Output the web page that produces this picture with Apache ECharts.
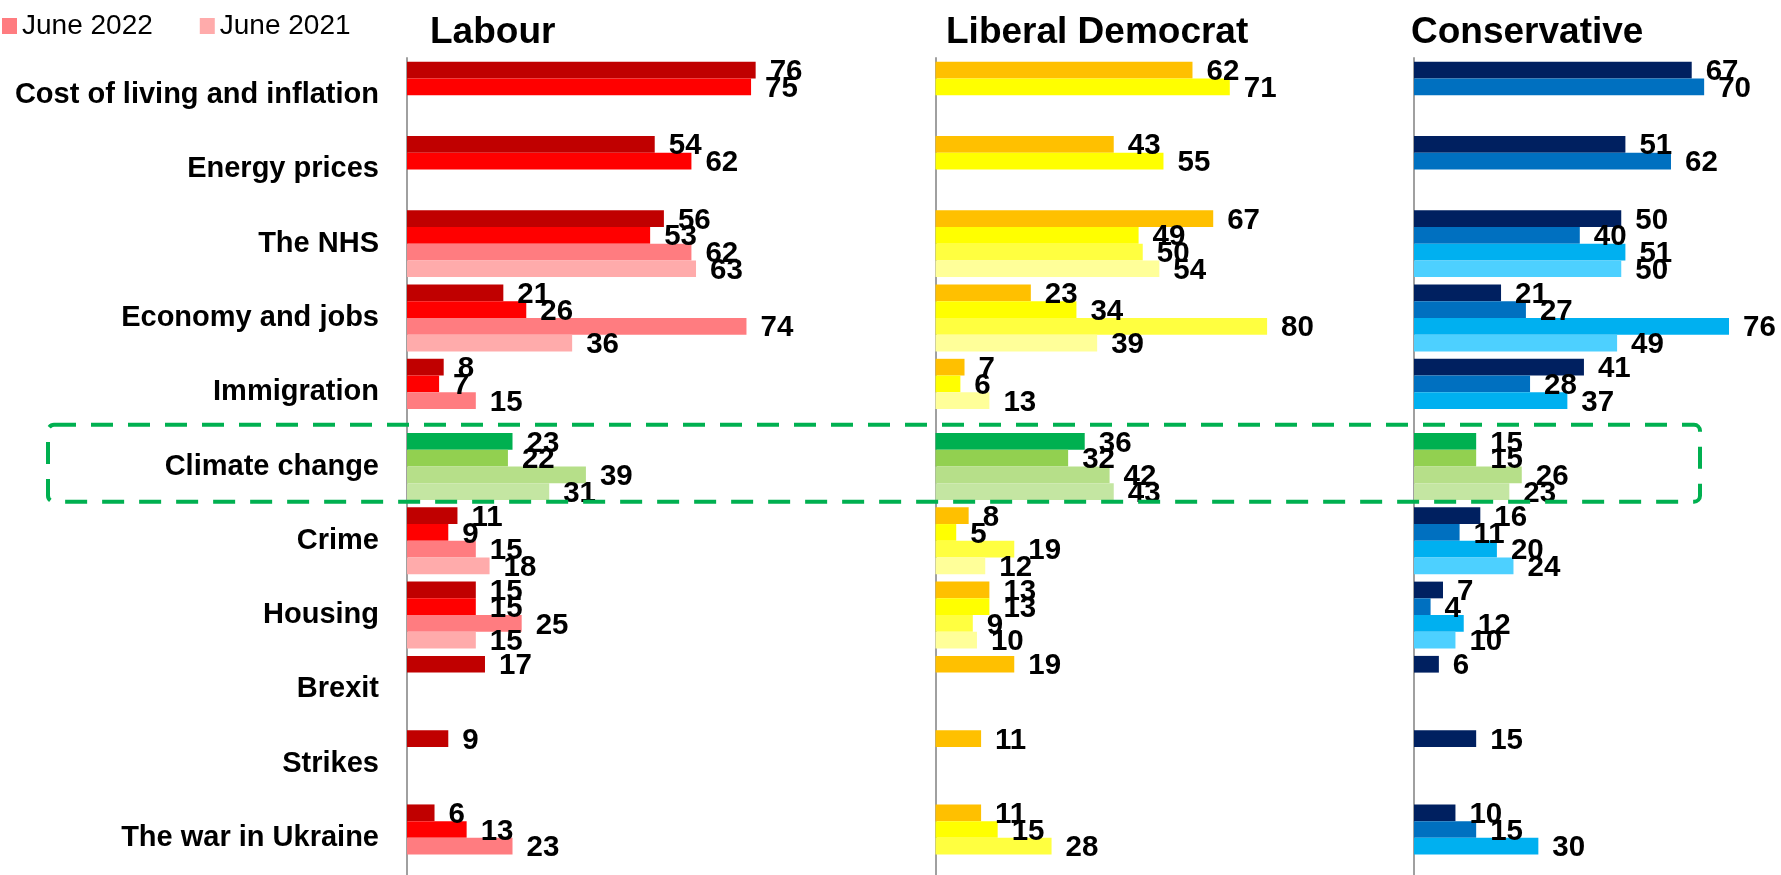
<!DOCTYPE html>
<html>
<head>
<meta charset="utf-8">
<script src="https://cdn.jsdelivr.net/npm/echarts@6/dist/echarts.min.js"></script>
<style>
html,body{margin:0;padding:0;background:#fff;}
#chart{width:1781px;height:875px;}
</style>
</head>
<body>
<div id="chart"></div>
<script>
const categories = ['Cost of living and inflation','Energy prices','The NHS','Economy and jobs','Immigration','Climate change','Crime','Housing','Brexit','Strikes','The war in Ukraine'];
const partyTitles = ['Labour','Liberal Democrat','Conservative'];
const legendLabels = ['June 2022','June 2021'];

const labour1 = [76,54,56,21,8,23,11,15,17,9,6];
const labour2 = [75,62,53,26,7,22,9,15,null,null,13];
const labour3 = [null,null,62,74,15,39,15,25,null,null,23];
const labour4 = [null,null,63,36,null,31,18,15,null,null,null];

const libdem1 = [62,43,67,23,7,36,8,13,19,11,11];
const libdem2 = [71,55,49,34,6,32,5,13,null,null,15];
const libdem3 = [null,null,50,80,13,42,19,9,null,null,28];
const libdem4 = [null,null,54,39,null,43,12,10,null,null,null];

const con1 = [67,51,50,21,41,15,16,7,6,15,10];
const con2 = [70,62,40,27,28,15,11,4,null,null,15];
const con3 = [null,null,51,76,37,26,20,12,null,null,30];
const con4 = [null,null,50,49,null,23,24,10,null,null,null];

const partyData = [
  [labour1, labour2, labour3, labour4],
  [libdem1, libdem2, libdem3, libdem4],
  [con1, con2, con3, con4]
];
const partyColors = [
  ['#C00000','#FF0000','#FF7C80','#FFABAB'],
  ['#FFC000','#FFFF00','#FFFF40','#FFFF99'],
  ['#002060','#0070C0','#00B0F0','#4DD0FF']
];
const climateColors = ['#00B050','#92D050','#B6DF89','#C4E6A2'];
// single point recoloured in the original (Lib Dem, immigration, third bar)
const pointColorOverrides = [{party:1, series:2, cat:'Immigration', color:'#FFFF99'}];

const FONT = '"Liberation Sans", Arial, sans-serif';
const grids = [
  {left: 407, top: 58, width: 367, height: 819.5},
  {left: 935.5, top: 58, width: 331.6, height: 819.5},
  {left: 1414, top: 58, width: 331.6, height: 819.5}
];
const titleLeft = [430, 946, 1411];

const climateIdx = categories.indexOf('Climate change');
const series = [];
partyData.forEach((arrs, p) => {
  arrs.forEach((arr, s) => {
    let name = partyTitles[p] + ' ' + (s + 1);
    if (p === 0 && s >= 2) name = legendLabels[s - 2];
    series.push({
      type: 'bar',
      name: name,
      xAxisIndex: p,
      yAxisIndex: p,
      barGap: '0%',
      barCategoryGap: '10%',
      itemStyle: {color: partyColors[p][s]},
      label: {
        show: true, position: 'right', distance: 14, offset: [0, 2],
        fontSize: 29.5, fontWeight: 'bold', color: '#000', fontFamily: FONT
      },
      data: arr.map((v, i) => {
        if (v === null) return null;
        let color = null;
        if (i === climateIdx) color = climateColors[s];
        pointColorOverrides.forEach(o => {
          if (o.party === p && o.series === s && categories.indexOf(o.cat) === i) color = o.color;
        });
        return color ? {value: v, itemStyle: {color: color}} : v;
      })
    });
  });
});

const option = {
  animation: false,
  backgroundColor: '#fff',
  title: partyTitles.map((t, i) => ({
    text: t, left: titleLeft[i], top: 14, padding: 0,
    textStyle: {fontSize: 37, fontWeight: 'bold', color: '#000', fontFamily: FONT}
  })),
  legend: {
    data: legendLabels,
    left: 2, top: 12, padding: 0,
    icon: 'rect', itemWidth: 15, itemHeight: 16, itemGap: 47,
    textStyle: {fontSize: 28, color: '#000', fontFamily: FONT}
  },
  grid: grids,
  xAxis: grids.map((g, i) => ({
    type: 'value', gridIndex: i, min: 0, max: 80, show: false, splitLine: {show: false}
  })),
  yAxis: grids.map((g, i) => ({
    type: 'category', gridIndex: i, data: categories, inverse: true,
    axisLine: {show: true, lineStyle: {color: '#a0a0a0', width: 2}},
    axisTick: {show: false},
    axisLabel: {
      show: i === 0, margin: 28, fontSize: 29, fontWeight: 'bold', color: '#000', fontFamily: FONT
    }
  })),
  series: series
};

const chart = echarts.init(document.getElementById('chart'), null, {renderer: 'canvas'});
chart.setOption(option);

const c0 = chart.convertToPixel({yAxisIndex: 0}, climateIdx);
const c1 = chart.convertToPixel({yAxisIndex: 0}, climateIdx + 1);
const band = Math.abs(c1 - c0);
chart.setOption({
  graphic: [{
    type: 'rect', z: 100, silent: true,
    shape: {x: 48, y: c0 - band / 2 - 4.5, width: 1652, height: band + 2.5, r: 6},
    style: {fill: 'none', stroke: '#00B050', lineWidth: 4, lineDash: [22, 15]}
  }]
});
</script>
</body>
</html>
